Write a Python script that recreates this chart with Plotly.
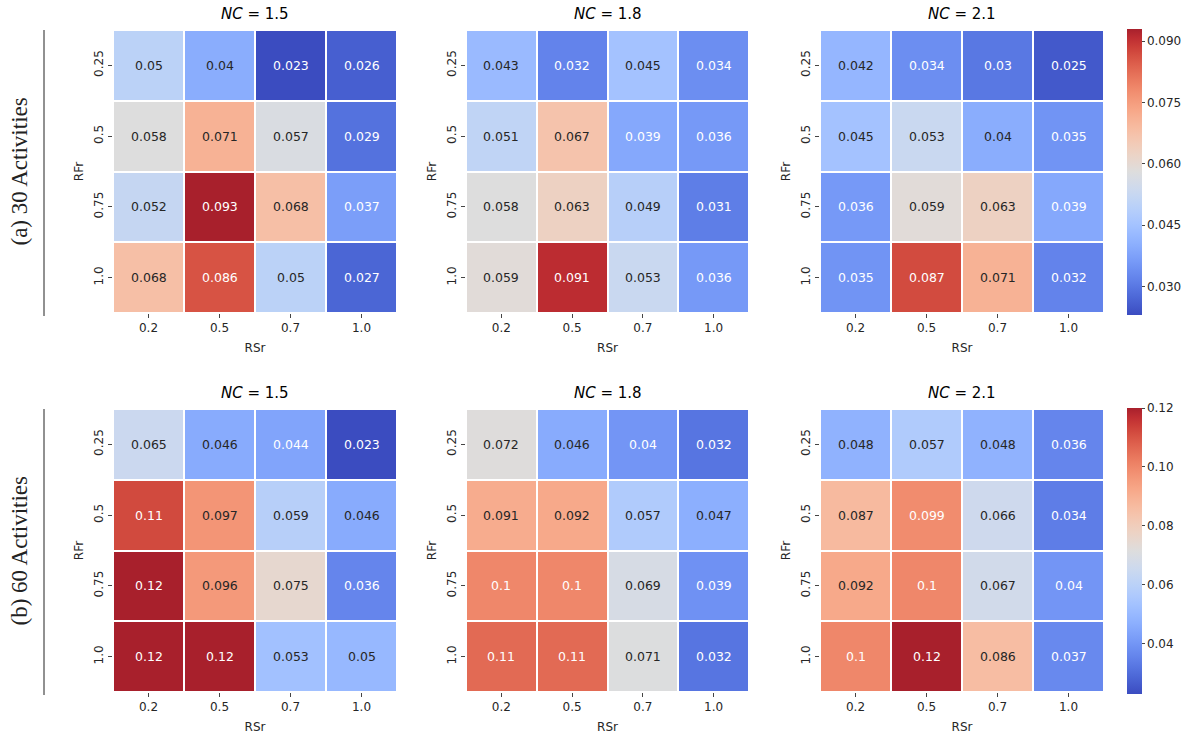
import plotly.graph_objects as go

# ---------------- data ----------------
rsr_labels = ["0.2", "0.5", "0.7", "1.0"]
rfr_labels = ["0.25", "0.5", "0.75", "1.0"]
nc_labels = ["1.5", "1.8", "2.1"]

# (a) 30 Activities  (rows = RFr, cols = RSr)
a_nc15 = [[0.050, 0.040, 0.023, 0.026],
          [0.058, 0.071, 0.057, 0.029],
          [0.052, 0.093, 0.068, 0.037],
          [0.068, 0.086, 0.050, 0.027]]
a_nc18 = [[0.043, 0.032, 0.045, 0.034],
          [0.051, 0.067, 0.039, 0.036],
          [0.058, 0.063, 0.049, 0.031],
          [0.059, 0.091, 0.053, 0.036]]
a_nc21 = [[0.042, 0.034, 0.030, 0.025],
          [0.045, 0.053, 0.040, 0.035],
          [0.036, 0.059, 0.063, 0.039],
          [0.035, 0.087, 0.071, 0.032]]

# (b) 60 Activities
b_nc15 = [[0.065, 0.046, 0.044, 0.023],
          [0.112, 0.097, 0.059, 0.046],
          [0.120, 0.096, 0.075, 0.036],
          [0.120, 0.120, 0.053, 0.050]]
b_nc18 = [[0.072, 0.046, 0.040, 0.032],
          [0.091, 0.092, 0.057, 0.047],
          [0.100, 0.100, 0.069, 0.039],
          [0.106, 0.106, 0.071, 0.032]]
b_nc21 = [[0.048, 0.057, 0.048, 0.036],
          [0.087, 0.099, 0.066, 0.034],
          [0.092, 0.100, 0.067, 0.040],
          [0.100, 0.120, 0.086, 0.037]]

row_a = [a_nc15, a_nc18, a_nc21]
row_b = [b_nc15, b_nc18, b_nc21]
row_titles = ["(a) 30 Activities", "(b) 60 Activities"]
cbar_a_ticks = [0.030, 0.045, 0.060, 0.075, 0.090]
cbar_b_ticks = [0.04, 0.06, 0.08, 0.10, 0.12]
zlim_a = (0.023, 0.093)
zlim_b = (0.023, 0.120)

# ---------------- colormap (coolwarm, Moreland) ----------------
cw = [(59, 76, 192), (68, 90, 204), (77, 104, 215), (87, 117, 225), (98, 130, 234),
      (108, 142, 241), (119, 154, 247), (130, 165, 251), (141, 176, 254), (152, 185, 255),
      (163, 194, 255), (174, 201, 253), (184, 208, 249), (194, 213, 244), (204, 217, 238),
      (213, 219, 230), (221, 221, 221), (229, 216, 209), (236, 211, 197), (241, 204, 185),
      (245, 196, 173), (247, 187, 160), (247, 177, 148), (247, 166, 135), (244, 154, 123),
      (241, 141, 111), (236, 127, 99), (229, 112, 88), (222, 96, 77), (213, 80, 66),
      (203, 62, 56), (190, 45, 50), (168, 32, 44)]
n = len(cw) - 1
colorscale = [[i / n, "rgb(%d,%d,%d)" % c] for i, c in enumerate(cw)]


def cmap(t):
    t = min(max(t, 0.0), 1.0)
    f = t * n
    i = min(int(f), n - 1)
    r = f - i
    a, b = cw[i], cw[i + 1]
    return tuple(a[k] + (b[k] - a[k]) * r for k in range(3))


def text_color(rgb):
    def lin(c):
        c = c / 255.0
        return c / 12.92 if c <= 0.03928 else ((c + 0.055) / 1.055) ** 2.4
    lum = 0.2126 * lin(rgb[0]) + 0.7152 * lin(rgb[1]) + 0.0722 * lin(rgb[2])
    return "#262626" if lum > 0.408 else "white"


W, H = 1194, 735
px_x = lambda v: v / W
px_y = lambda v: 1 - v / H

col_x = [(113, 397), (466, 749), (820, 1104)]
row_y = [(30, 313), (409, 692)]

fig = go.Figure()
annotations = []
shapes = []
FONT = "DejaVu Sans"

idx = 0
for r, (rowdata, zlim, ticks, cax) in enumerate([(row_a, zlim_a, cbar_a_ticks, "coloraxis"),
                                                   (row_b, zlim_b, cbar_b_ticks, "coloraxis2")]):
    for c, z in enumerate(rowdata):
        idx += 1
        xa = "x" if idx == 1 else "x%d" % idx
        ya = "y" if idx == 1 else "y%d" % idx
        fig.add_trace(go.Heatmap(
            z=z, x=rsr_labels, y=rfr_labels, coloraxis=cax,
            xgap=2, ygap=2, xaxis=xa, yaxis=ya, hoverinfo="skip"))
        x0, x1 = col_x[c]
        y0, y1 = row_y[r]
        xkey = "xaxis" if idx == 1 else "xaxis%d" % idx
        ykey = "yaxis" if idx == 1 else "yaxis%d" % idx
        fig.layout[xkey] = dict(
            domain=[px_x(x0), px_x(x1)], anchor=ya, type="category",
            categoryorder="array", categoryarray=rsr_labels,
            showgrid=False, zeroline=False, showline=False,
            ticks="outside", ticklen=4, tickwidth=1, tickcolor="#444",
            tickfont=dict(family=FONT, size=12, color="#262626"),
            title=dict(text="RSr", font=dict(family=FONT, size=12, color="#262626"), standoff=9))
        fig.layout[ykey] = dict(
            domain=[px_y(y1), px_y(y0)], anchor=xa, type="category",
            categoryorder="array", categoryarray=rfr_labels, autorange="reversed",
            showgrid=False, zeroline=False, showline=False,
            ticks="outside", ticklen=4, tickwidth=1, tickcolor="#444", tickangle=-90,
            tickfont=dict(family=FONT, size=12, color="#262626"),
            title=dict(text="RFr", font=dict(family=FONT, size=12, color="#262626"), standoff=6))
        # cell labels (category index positions)
        for i in range(len(rfr_labels)):
            for j in range(len(rsr_labels)):
                v = z[i][j]
                t = (v - zlim[0]) / (zlim[1] - zlim[0])
                annotations.append(dict(
                    x=j, y=i, xref=xa, yref=ya, text=format(v, ".2g"),
                    showarrow=False, xanchor="center", yanchor="middle",
                    font=dict(family=FONT, size=12.5, color=text_color(cmap(t)))))
        # panel title
        annotations.append(dict(
            x=(px_x(x0) + px_x(x1)) / 2, y=px_y(y0 - 16), xref="paper", yref="paper",
            text="<i>NC</i> = " + nc_labels[c], showarrow=False,
            font=dict(family=FONT, size=15, color="black"), xanchor="center", yanchor="middle"))
    # row label + line
    yc = (row_y[r][0] + row_y[r][1]) / 2
    annotations.append(dict(
        x=px_x(19), y=px_y(yc), xref="paper", yref="paper", text=row_titles[r],
        textangle=-90, showarrow=False, xanchor="center", yanchor="middle",
        font=dict(family="Liberation Serif", size=23, color="#222")))
    shapes.append(dict(type="line", xref="paper", yref="paper",
                       x0=px_x(44), x1=px_x(44), y0=px_y(row_y[r][0]), y1=px_y(row_y[r][1] + 3),
                       line=dict(color="#222", width=1)))

cb_common = dict(thickness=15, thicknessmode="pixels", x=px_x(1127), xanchor="left", xpad=0,
                 ypad=0, lenmode="fraction", outlinewidth=0, ticks="outside", ticklen=3,
                 tickcolor="#444", tickfont=dict(family=FONT, size=12, color="#262626"))

fig.update_layout(
    width=W, height=H,
    margin=dict(l=0, r=0, t=0, b=0),
    paper_bgcolor="white", plot_bgcolor="white",
    coloraxis=dict(colorscale=colorscale, cmin=zlim_a[0], cmax=zlim_a[1],
                   colorbar=dict(**cb_common, y=px_y(172), yanchor="middle", len=286 / H,
                                 tickvals=cbar_a_ticks, tickformat=".3f")),
    coloraxis2=dict(colorscale=colorscale, cmin=zlim_b[0], cmax=zlim_b[1],
                    colorbar=dict(**cb_common, y=px_y(551), yanchor="middle", len=286 / H,
                                  tickvals=cbar_b_ticks, tickformat=".2f")),
    annotations=annotations,
    shapes=shapes,
    showlegend=False,
)

fig.write_html("out.html", config={"displayModeBar": False},
               post_script="document.body.style.margin='0';")
